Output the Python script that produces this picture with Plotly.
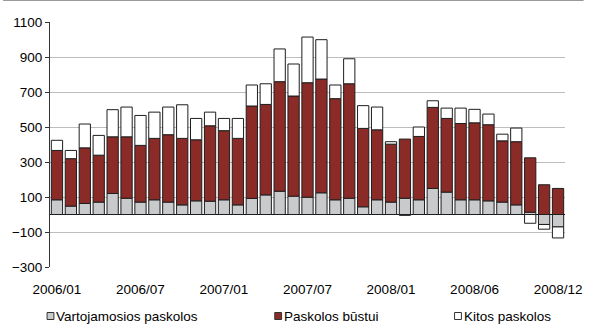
import plotly.graph_objects as go

# Monthly changes of loan portfolio, 37 periods (index along the category axis)
periods = list(range(37))
tick_positions = [0, 6, 12, 18, 24, 30, 36]
tick_labels = ["2006/01", "2006/07", "2007/01", "2007/07", "2008/01", "2008/06", "2008/12"]

series_names = ["Vartojamosios paskolos", "Paskolos būstui", "Kitos paskolos"]
series_colors = ["#C9CACC", "#8B2B27", "#FFFFFF"]

consumer = [84, 48, 63, 71, 120, 93, 71, 84, 71, 55, 78, 76, 84, 55, 92, 112, 133, 105,
            99, 124, 84, 93, 44, 84, 71, 93, 84, 149, 128, 84, 84, 78, 71, 55, 13, -57, -71]
housing = [282, 271, 318, 268, 324, 351, 324, 351, 385, 380, 349, 431, 395, 380, 528, 517,
           626, 572, 654, 650, 578, 654, 448, 400, 331, 338, 362, 463, 421, 436, 440, 435,
           350, 361, 311, 170, 149]
other = [58, 47, 136, 113, 155, 170, 171, 150, 158, 192, 122, 78, 70, 114, 120, 118, 187,
         183, 261, 225, 78, 143, 130, 130, 14, -5, 54, 38, 59, 88, 77, 61, 38, 78, -50, -27, -63]

y_ticks = [-300, -100, 100, 300, 500, 700, 900, 1100]
y_range = [-300, 1100]

# plot area geometry in pixels
W, H = 594, 332
ML, MR, MT, MB = 48, 19, 22, 65
PW, PH = W - ML - MR, H - MT - MB


def px_x(x):
    return (x - ML) / PW


def px_y(y):
    return (H - MB - y) / PH


fig = go.Figure()
for name, color, values in zip(series_names, series_colors, [consumer, housing, other]):
    fig.add_trace(go.Bar(
        x=periods, y=values, name=name,
        marker=dict(color=color, line=dict(color="#1E1E1E", width=1)),
        showlegend=False,
    ))

# category boundaries for the tick marks on the zero line
boundaries = [p - 0.5 for p in periods] + [periods[-1] + 0.5]

font = dict(family="Liberation Sans, Arial, sans-serif", size=13.5, color="#000000")

fig.update_layout(
    width=W, height=H,
    margin=dict(l=ML, r=MR, t=MT, b=MB),
    barmode="relative", bargap=0.19,
    plot_bgcolor="white", paper_bgcolor="white",
    font=font,
    xaxis=dict(
        range=[boundaries[0], boundaries[-1]],
        tickmode="array", tickvals=tick_positions, ticktext=tick_labels,
        showgrid=False, zeroline=False, showline=False, ticks="",
        ticklabelstandoff=12,
    ),
    xaxis2=dict(
        overlaying="x", anchor="free",
        position=(0 - y_range[0]) / (y_range[1] - y_range[0]),
        range=[boundaries[0], boundaries[-1]],
        tickmode="array", tickvals=boundaries,
        ticks="outside", ticklen=4, tickcolor="#222222", tickwidth=1,
        showticklabels=False, showline=True, linecolor="#111111", linewidth=1,
        showgrid=False, zeroline=False,
    ),
    yaxis=dict(
        range=y_range, tickmode="array", tickvals=y_ticks,
        showgrid=True, gridcolor="#BDBDBD", gridwidth=1,
        zeroline=True, zerolinecolor="#111111", zerolinewidth=1,
        showline=True, linecolor="#333333", linewidth=1,
        ticks="outside", ticklen=4, tickcolor="#333333",
    ),
)

# frame line along the top edge of the image
fig.add_shape(type="line", xref="paper", yref="paper",
              x0=px_x(0), x1=px_x(W), y0=px_y(0.5), y1=px_y(0.5),
              line=dict(color="#9A9A9A", width=1))

# legend row below the axis labels
legend_left = [45, 278, 462]
legend_mid = 316
for name, color, x0 in zip(series_names, series_colors, legend_left):
    fig.add_shape(type="rect", xref="paper", yref="paper",
                  x0=px_x(x0), x1=px_x(x0 + 7), y0=px_y(legend_mid - 3.5), y1=px_y(legend_mid + 3.5),
                  fillcolor=color, line=dict(color="#333333", width=1))
    fig.add_annotation(xref="paper", yref="paper", x=px_x(x0 + 7.5), y=px_y(legend_mid),
                       xanchor="left", yanchor="middle", text=name, showarrow=False,
                       font=font)

fig.write_html("out.html")
